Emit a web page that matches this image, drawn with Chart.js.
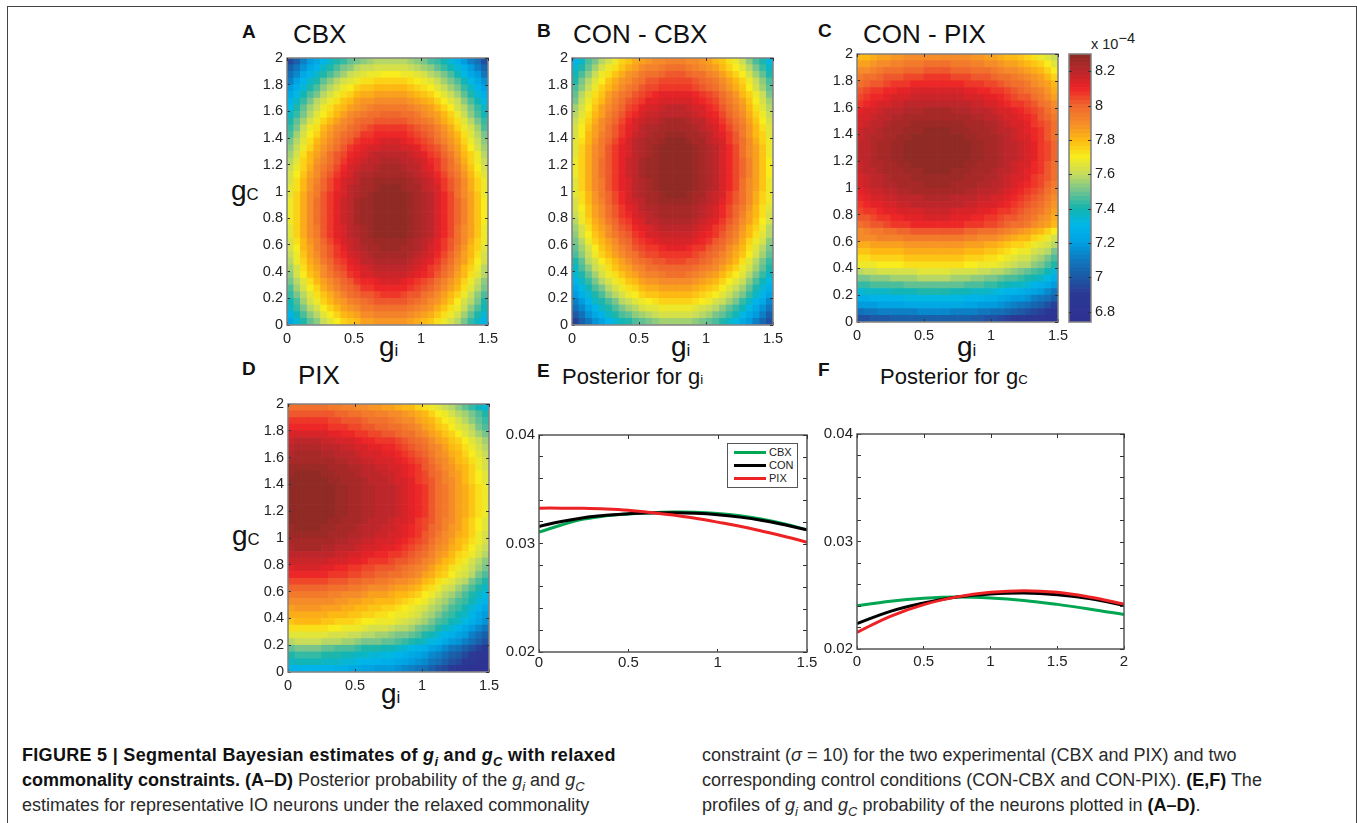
<!DOCTYPE html>
<html>
<head>
<meta charset="utf-8">
<title>Figure 5</title>
<script src="https://cdn.jsdelivr.net/npm/chart.js@4"></script>
<style>
html,body{margin:0;padding:0;background:#fff;width:1357px;height:823px;overflow:hidden;font-family:"Liberation Sans",Arial,sans-serif;color:#1a1a1a}
canvas{position:absolute}
.t{position:absolute;white-space:nowrap;line-height:1}
.letter{font-weight:bold;font-size:19px;color:#111}
.title{font-size:26px;color:#111}
.title2{font-size:22px;color:#111}
.title2 small,.gl small{font-size:.6em}
.gl{font-size:28px;color:#111}
.frame{position:absolute;left:7px;top:6px;width:1348px;height:830px;border:1.5px solid #444}
.cap{position:absolute;white-space:nowrap;font-size:18px;line-height:25px;color:#2a2a2a}
.cap b{color:#111}
.cap sub{font-size:.72em;line-height:0}
.lgd{position:absolute;left:727px;top:443px;width:69px;height:43px;border:1px solid #555;background:#fff;z-index:5}
.lgd i{position:absolute;left:6px;width:32px;height:3px}
.lgd span{position:absolute;left:41px;font-size:11px;line-height:12px;color:#222}
</style>
</head>
<body>
<div class="frame"></div>

<div class="t letter" style="left:242px;top:22px">A</div>
<div class="t letter" style="left:537px;top:21px">B</div>
<div class="t letter" style="left:818px;top:21px">C</div>
<div class="t letter" style="left:242px;top:359px">D</div>
<div class="t letter" style="left:537px;top:361px">E</div>
<div class="t letter" style="left:818px;top:360px">F</div>

<div class="t title" style="left:293px;top:21px">CBX</div>
<div class="t title" style="left:573px;top:21px">CON - CBX</div>
<div class="t title" style="left:863px;top:21px">CON - PIX</div>
<div class="t title" style="left:298px;top:362px">PIX</div>
<div class="t title2" style="left:562px;top:366px">Posterior for g<small>i</small></div>
<div class="t title2" style="left:880px;top:366px">Posterior for g<small>C</small></div>

<div class="t gl" style="left:231px;top:177px">g<small>C</small></div>
<div class="t gl" style="left:232px;top:522px">g<small>C</small></div>
<div class="t gl" style="left:379px;top:333px">g<small>i</small></div>
<div class="t gl" style="left:671px;top:333px">g<small>i</small></div>
<div class="t gl" style="left:957px;top:333px">g<small>i</small></div>
<div class="t gl" style="left:381px;top:680px">g<small>i</small></div>

<div class="t" style="left:1091px;top:37px;font-size:14.5px;color:#222">x 10<sup style="font-size:14.5px;line-height:0">&minus;4</sup></div>

<div class="lgd">
  <i style="top:7px;background:#00a651"></i><span style="top:2px">CBX</span>
  <i style="top:20px;background:#000"></i><span style="top:15px">CON</span>
  <i style="top:33px;background:#ed2224"></i><span style="top:28px">PIX</span>
</div>

<div class="cap" style="left:22px;top:743px">
<b style="letter-spacing:.3px">FIGURE 5 | Segmental Bayesian estimates of <i>g<sub>i</sub></i> and <i>g<sub>C</sub></i> with relaxed</b><br>
<b>commonality constraints. (A&ndash;D)</b> Posterior probability of the <i>g<sub>i</sub></i> and <i>g<sub>C</sub></i><br>
estimates for representative IO neurons under the relaxed commonality
</div>
<div class="cap" style="left:702px;top:743px">
constraint (<i>&sigma;</i> = 10) for the two experimental (CBX and PIX) and two<br>
corresponding control conditions (CON-CBX and CON-PIX). <b>(E,F)</b> The<br>
profiles of <i>g<sub>i</sub></i> and <i>g<sub>C</sub></i> probability of the neurons plotted in <b>(A&ndash;D)</b>.
</div>

<script>
// posterior grids, x 10^-6, rows run top (gc = 2) to bottom (gc = 0), 30 columns gi 0..1.5
const cbxGrid = [
[695,703,711,718,724,730,735,740,744,748,751,754,755,757,758,758,758,757,755,753,750,747,743,738,733,727,720,713,706,698],
[701,709,717,724,730,736,741,746,750,754,757,760,761,763,764,764,764,763,761,759,756,753,749,744,739,733,726,719,712,704],
[707,715,723,730,736,742,747,752,756,760,763,766,767,769,770,770,770,769,767,765,762,759,755,750,745,739,732,725,718,710],
[713,721,729,736,742,748,753,758,762,766,769,772,773,775,776,776,776,775,773,771,768,765,761,756,751,745,738,731,724,716],
[718,726,734,741,747,753,758,763,767,771,774,777,778,780,781,781,781,780,778,776,773,770,766,761,756,750,743,736,729,721],
[723,731,739,746,752,758,763,768,772,776,779,782,783,785,786,786,786,785,783,781,778,775,771,766,761,755,748,741,734,726],
[728,736,744,751,757,763,768,773,777,781,784,787,788,790,791,791,791,790,788,786,783,780,776,771,766,760,753,746,739,731],
[732,740,748,755,761,767,772,777,781,785,788,791,792,794,795,795,795,794,792,790,787,784,780,775,770,764,757,750,743,735],
[736,744,752,759,765,771,776,781,785,789,792,795,796,798,799,799,799,798,796,794,791,788,784,779,774,768,761,754,747,739],
[740,748,756,763,769,775,780,785,789,793,796,799,800,802,803,803,803,802,800,798,795,792,788,783,778,772,765,758,751,743],
[744,752,760,767,773,779,784,789,793,797,800,803,804,806,807,807,807,806,804,802,799,796,792,787,782,776,769,762,755,747],
[747,755,763,770,776,782,787,792,796,800,803,806,807,809,810,810,810,809,807,805,802,799,795,790,785,779,772,765,758,750],
[750,758,766,773,779,785,790,795,799,803,806,809,810,812,813,813,813,812,810,808,805,802,798,793,788,782,775,768,761,753],
[753,761,769,776,782,788,793,798,802,806,809,812,813,815,816,816,816,815,813,811,808,805,801,796,791,785,778,771,764,756],
[756,764,772,779,785,791,796,801,805,809,812,815,816,818,819,819,819,818,816,814,811,808,804,799,794,788,781,774,767,759],
[758,766,774,781,787,793,798,803,807,811,814,817,818,820,821,821,821,820,818,816,813,810,806,801,796,790,783,776,769,761],
[760,768,776,783,789,795,800,805,809,813,816,819,820,822,823,823,823,822,820,818,815,812,808,803,798,792,785,778,771,763],
[762,770,778,785,791,797,802,807,811,815,818,821,822,824,825,825,825,824,822,820,817,814,810,805,800,794,787,780,773,765],
[764,772,780,787,793,799,804,809,813,817,820,823,824,826,827,827,827,826,824,822,819,816,812,807,802,796,789,782,775,767],
[765,773,781,788,794,800,805,810,814,818,821,824,825,827,828,828,828,827,825,823,820,817,813,808,803,797,790,783,776,768],
[766,774,782,789,795,801,806,811,815,819,822,825,826,828,829,829,829,828,826,824,821,818,814,809,804,798,791,784,777,769],
[767,775,783,790,796,802,807,812,816,820,823,826,827,829,830,830,830,829,827,825,822,819,815,810,805,799,792,785,778,770],
[767,775,783,790,796,802,807,812,816,820,823,826,827,829,830,830,830,829,827,825,822,819,815,810,805,799,792,785,778,770],
[767,775,783,790,796,802,807,812,816,820,823,826,827,829,830,830,830,829,827,825,822,819,815,810,805,799,792,785,778,770],
[767,775,783,790,796,802,807,812,816,820,823,826,827,829,830,830,830,829,827,825,822,819,815,810,805,799,792,785,778,770],
[766,774,782,789,795,801,806,811,815,819,822,825,826,828,829,829,829,828,826,824,821,818,814,809,804,798,791,784,777,769],
[766,774,782,789,795,801,806,811,815,819,822,825,826,828,829,829,829,828,826,824,821,818,814,809,804,798,791,784,777,769],
[764,772,780,787,793,799,804,809,813,817,820,823,824,826,827,827,827,826,824,822,819,816,812,807,802,796,789,782,775,767],
[763,771,779,786,792,798,803,808,812,816,819,822,823,825,826,826,826,825,823,821,818,815,811,806,801,795,788,781,774,766],
[761,769,777,784,790,796,801,806,810,814,817,820,821,823,824,824,824,823,821,819,816,813,809,804,799,793,786,779,772,764],
[759,767,775,782,788,794,799,804,808,812,815,818,819,821,822,822,822,821,819,817,814,811,807,802,797,791,784,777,770,762],
[756,764,772,779,785,791,796,801,805,809,812,815,816,818,819,819,819,818,816,814,811,808,804,799,794,788,781,774,767,759],
[754,762,770,777,783,789,794,799,803,807,810,813,814,816,817,817,817,816,814,812,809,806,802,797,792,786,779,772,765,757],
[750,758,766,773,779,785,790,795,799,803,806,809,810,812,813,813,813,812,810,808,805,802,798,793,788,782,775,768,761,753],
[747,755,763,770,776,782,787,792,796,800,803,806,807,809,810,810,810,809,807,805,802,799,795,790,785,779,772,765,758,750],
[743,751,759,766,772,778,783,788,792,796,799,802,803,805,806,806,806,805,803,801,798,795,791,786,781,775,768,761,754,746],
[739,747,755,762,768,774,779,784,788,792,795,798,799,801,802,802,802,801,799,797,794,791,787,782,777,771,764,757,750,742],
[735,743,751,758,764,770,775,780,784,788,791,794,795,797,798,798,798,797,795,793,790,787,783,778,773,767,760,753,746,738],
[730,738,746,753,759,765,770,775,779,783,786,789,790,792,793,793,793,792,790,788,785,782,778,773,768,762,755,748,741,733],
[725,733,741,748,754,760,765,770,774,778,781,784,785,787,788,788,788,787,785,783,780,777,773,768,763,757,750,743,736,728]
];
const conCbxGrid = [
[729,737,745,752,758,764,769,774,778,782,785,788,789,791,792,792,792,791,789,787,784,781,777,772,767,761,754,747,740,732],
[733,741,749,756,762,768,773,778,782,786,789,792,793,795,796,796,796,795,793,791,788,785,781,776,771,765,758,751,744,736],
[738,746,754,761,767,773,778,783,787,791,794,797,798,800,801,801,801,800,798,796,793,790,786,781,776,770,763,756,749,741],
[742,750,758,765,771,777,782,787,791,795,798,801,802,804,805,805,805,804,802,800,797,794,790,785,780,774,767,760,753,745],
[745,753,761,768,774,780,785,790,794,798,801,804,805,807,808,808,808,807,805,803,800,797,793,788,783,777,770,763,756,748],
[749,757,765,772,778,784,789,794,798,802,805,808,809,811,812,812,812,811,809,807,804,801,797,792,787,781,774,767,760,752],
[752,760,768,775,781,787,792,797,801,805,808,811,812,814,815,815,815,814,812,810,807,804,800,795,790,784,777,770,763,755],
[755,763,771,778,784,790,795,800,804,808,811,814,815,817,818,818,818,817,815,813,810,807,803,798,793,787,780,773,766,758],
[757,765,773,780,786,792,797,802,806,810,813,816,817,819,820,820,820,819,817,815,812,809,805,800,795,789,782,775,768,760],
[760,768,776,783,789,795,800,805,809,813,816,819,820,822,823,823,823,822,820,818,815,812,808,803,798,792,785,778,771,763],
[762,770,778,785,791,797,802,807,811,815,818,821,822,824,825,825,825,824,822,820,817,814,810,805,800,794,787,780,773,765],
[763,771,779,786,792,798,803,808,812,816,819,822,823,825,826,826,826,825,823,821,818,815,811,806,801,795,788,781,774,766],
[765,773,781,788,794,800,805,810,814,818,821,824,825,827,828,828,828,827,825,823,820,817,813,808,803,797,790,783,776,768],
[766,774,782,789,795,801,806,811,815,819,822,825,826,828,829,829,829,828,826,824,821,818,814,809,804,798,791,784,777,769],
[766,774,782,789,795,801,806,811,815,819,822,825,826,828,829,829,829,828,826,824,821,818,814,809,804,798,791,784,777,769],
[767,775,783,790,796,802,807,812,816,820,823,826,827,829,830,830,830,829,827,825,822,819,815,810,805,799,792,785,778,770],
[767,775,783,790,796,802,807,812,816,820,823,826,827,829,830,830,830,829,827,825,822,819,815,810,805,799,792,785,778,770],
[767,775,783,790,796,802,807,812,816,820,823,826,827,829,830,830,830,829,827,825,822,819,815,810,805,799,792,785,778,770],
[766,774,782,789,795,801,806,811,815,819,822,825,826,828,829,829,829,828,826,824,821,818,814,809,804,798,791,784,777,769],
[766,774,782,789,795,801,806,811,815,819,822,825,826,828,829,829,829,828,826,824,821,818,814,809,804,798,791,784,777,769],
[765,773,781,788,794,800,805,810,814,818,821,824,825,827,828,828,828,827,825,823,820,817,813,808,803,797,790,783,776,768],
[764,772,780,787,793,799,804,809,813,817,820,823,824,826,827,827,827,826,824,822,819,816,812,807,802,796,789,782,775,767],
[762,770,778,785,791,797,802,807,811,815,818,821,822,824,825,825,825,824,822,820,817,814,810,805,800,794,787,780,773,765],
[761,769,777,784,790,796,801,806,810,814,817,820,821,823,824,824,824,823,821,819,816,813,809,804,799,793,786,779,772,764],
[759,767,775,782,788,794,799,804,808,812,815,818,819,821,822,822,822,821,819,817,814,811,807,802,797,791,784,777,770,762],
[756,764,772,779,785,791,796,801,805,809,812,815,816,818,819,819,819,818,816,814,811,808,804,799,794,788,781,774,767,759],
[754,762,770,777,783,789,794,799,803,807,810,813,814,816,817,817,817,816,814,812,809,806,802,797,792,786,779,772,765,757],
[751,759,767,774,780,786,791,796,800,804,807,810,811,813,814,814,814,813,811,809,806,803,799,794,789,783,776,769,762,754],
[748,756,764,771,777,783,788,793,797,801,804,807,808,810,811,811,811,810,808,806,803,800,796,791,786,780,773,766,759,751],
[745,753,761,768,774,780,785,790,794,798,801,804,805,807,808,808,808,807,805,803,800,797,793,788,783,777,770,763,756,748],
[741,749,757,764,770,776,781,786,790,794,797,800,801,803,804,804,804,803,801,799,796,793,789,784,779,773,766,759,752,744],
[737,745,753,760,766,772,777,782,786,790,793,796,797,799,800,800,800,799,797,795,792,789,785,780,775,769,762,755,748,740],
[733,741,749,756,762,768,773,778,782,786,789,792,793,795,796,796,796,795,793,791,788,785,781,776,771,765,758,751,744,736],
[728,736,744,751,757,763,768,773,777,781,784,787,788,790,791,791,791,790,788,786,783,780,776,771,766,760,753,746,739,731],
[723,731,739,746,752,758,763,768,772,776,779,782,783,785,786,786,786,785,783,781,778,775,771,766,761,755,748,741,734,726],
[718,726,734,741,747,753,758,763,767,771,774,777,778,780,781,781,781,780,778,776,773,770,766,761,756,750,743,736,729,721],
[712,720,728,735,741,747,752,757,761,765,768,771,772,774,775,775,775,774,772,770,767,764,760,755,750,744,737,730,723,715],
[706,714,722,729,735,741,746,751,755,759,762,765,766,768,769,769,769,768,766,764,761,758,754,749,744,738,731,724,717,709],
[700,708,716,723,729,735,740,745,749,753,756,759,760,762,763,763,763,762,760,758,755,752,748,743,738,732,725,718,711,703],
[693,701,709,716,722,728,733,738,742,746,749,752,753,755,756,756,756,755,753,751,748,745,741,736,731,725,718,711,704,696]
];
const conPixGrid = [
[779,781,783,784,786,787,788,789,790,790,791,791,791,791,790,790,789,788,787,786,785,783,781,779,777,775,772,769,765,760],
[784,786,788,789,791,792,793,794,795,795,796,796,796,796,795,795,794,793,792,791,790,788,786,784,782,780,777,774,770,765],
[789,791,793,794,796,797,798,799,800,800,801,801,801,801,800,800,799,798,797,796,795,793,791,789,787,785,782,779,775,770],
[794,796,798,799,801,802,803,804,805,805,806,806,806,806,805,805,804,803,802,801,800,798,796,794,792,790,787,784,780,775],
[798,800,802,803,805,806,807,808,809,809,810,810,810,810,809,809,808,807,806,805,804,802,800,798,796,794,791,788,784,779],
[802,804,806,807,809,810,811,812,813,813,814,814,814,814,813,813,812,811,810,809,808,806,804,802,800,798,795,792,788,783],
[805,807,809,810,812,813,814,815,816,816,817,817,817,817,816,816,815,814,813,812,811,809,807,805,803,801,798,795,791,786],
[808,810,812,813,815,816,817,818,819,819,820,820,820,820,819,819,818,817,816,815,814,812,810,808,806,804,801,798,794,789],
[811,813,815,816,818,819,820,821,822,822,823,823,823,823,822,822,821,820,819,818,817,815,813,811,809,807,804,801,797,792],
[813,815,817,818,820,821,822,823,824,824,825,825,825,825,824,824,823,822,821,820,819,817,815,813,811,809,806,803,799,794],
[815,817,819,820,822,823,824,825,826,826,827,827,827,827,826,826,825,824,823,822,821,819,817,815,813,811,808,805,801,796],
[816,818,820,821,823,824,825,826,827,827,828,828,828,828,827,827,826,825,824,823,822,820,818,816,814,812,809,806,802,797],
[817,819,821,822,824,825,826,827,828,828,829,829,829,829,828,828,827,826,825,824,823,821,819,817,815,813,810,807,803,798],
[818,820,822,823,825,826,827,828,829,829,830,830,830,830,829,829,828,827,826,825,824,822,820,818,816,814,811,808,804,799],
[818,820,822,823,825,826,827,828,829,829,830,830,830,830,829,829,828,827,826,825,824,822,820,818,816,814,811,808,804,799],
[818,820,822,823,825,826,827,828,829,829,830,830,830,830,829,829,828,827,826,825,824,822,820,818,816,814,811,808,804,799],
[817,819,821,822,824,825,826,827,828,828,829,829,829,829,828,828,827,826,825,824,823,821,819,817,815,813,810,807,803,798],
[816,818,820,821,823,824,825,826,827,827,828,828,828,828,827,827,826,825,824,823,822,820,818,816,814,812,809,806,802,797],
[815,817,819,820,822,823,824,825,826,826,827,827,827,827,826,826,825,824,823,822,821,819,817,815,813,811,808,805,801,796],
[814,816,818,819,821,822,823,824,825,825,826,826,826,826,825,825,824,823,822,821,820,818,816,814,812,810,807,804,800,795],
[812,814,816,817,819,820,821,822,823,823,824,824,824,824,823,823,822,821,820,819,818,816,814,812,810,808,805,802,798,793],
[809,811,813,814,816,817,818,819,820,820,821,821,821,821,820,820,819,818,817,816,815,813,811,809,807,805,802,799,795,790],
[807,809,811,812,814,815,816,817,818,818,819,819,819,819,818,818,817,816,815,814,813,811,809,807,805,803,800,797,793,788],
[804,806,808,809,811,812,813,814,815,815,816,816,816,816,815,815,814,813,812,811,810,808,806,804,802,800,797,794,790,785],
[801,803,805,806,808,809,810,811,812,812,813,813,813,813,812,812,811,810,809,808,807,805,803,801,799,797,794,791,787,782],
[798,800,802,803,805,806,807,808,809,809,810,810,810,810,809,809,808,807,806,805,804,802,800,798,796,794,791,788,784,779],
[790,792,794,795,797,798,799,800,801,801,802,802,802,802,801,801,800,799,798,797,796,794,792,790,788,786,783,780,776,771],
[789,790,791,792,792,793,793,794,794,795,795,795,795,795,794,794,793,792,791,790,789,787,785,783,781,779,776,773,769,764],
[782,783,784,785,785,786,786,787,787,788,788,788,788,788,787,787,786,785,784,783,782,780,778,776,774,772,769,766,762,757],
[777,778,779,780,780,781,781,782,782,783,783,783,783,783,782,782,781,780,779,778,777,775,773,771,769,767,764,761,757,752],
[772,773,774,775,775,776,776,777,777,778,778,778,778,778,777,777,776,775,774,773,772,770,768,766,764,762,759,756,752,747],
[767,768,769,770,770,771,771,772,772,773,773,773,773,773,772,772,771,770,769,768,767,765,763,761,759,757,754,751,747,742],
[759,760,761,762,762,763,763,764,764,765,765,765,765,765,764,764,763,762,761,760,759,757,755,753,751,749,746,743,739,734],
[751,752,753,754,754,755,755,756,756,757,757,757,757,757,756,756,755,754,753,752,751,749,747,745,743,741,738,735,731,726],
[743,744,745,746,746,747,747,748,748,749,749,749,749,749,748,748,747,746,745,744,743,741,739,737,735,733,730,727,723,718],
[734,735,736,737,737,738,738,739,739,740,740,740,740,740,739,739,738,737,736,735,734,732,730,728,726,724,721,718,714,709],
[726,727,728,729,729,730,730,731,731,732,732,732,732,732,731,731,730,729,728,727,726,724,722,720,718,716,713,710,706,701],
[718,719,720,721,721,722,722,723,723,724,724,724,724,724,723,723,722,721,720,719,718,716,714,712,710,708,705,702,698,693],
[708,709,710,711,711,712,712,713,713,714,714,714,714,714,713,713,712,711,710,709,708,706,704,702,700,698,695,692,688,683],
[697,698,699,700,700,701,701,702,702,703,703,703,703,703,702,702,701,700,699,698,697,695,693,691,689,687,684,681,677,675]
];
const pixGrid = [
[796,797,797,797,797,796,795,794,793,792,791,789,788,787,786,785,783,781,779,776,773,769,765,761,757,753,749,744,739,734],
[802,803,803,803,803,802,801,800,799,798,797,795,794,793,792,791,789,787,785,782,779,775,771,767,763,759,755,750,745,740],
[806,807,807,807,807,806,805,804,803,802,801,799,798,797,796,795,793,791,789,786,783,779,775,771,767,763,759,754,749,744],
[809,810,810,810,810,809,808,807,806,805,804,802,801,800,799,798,796,794,792,789,786,782,778,774,770,766,762,757,752,747],
[813,814,814,814,814,813,812,811,810,809,808,806,805,804,803,802,800,798,796,793,790,786,782,778,774,770,766,761,756,751],
[817,818,818,818,818,817,816,815,814,813,812,810,809,808,807,806,804,802,800,797,794,790,786,782,778,774,770,765,760,755],
[820,821,821,821,821,820,819,818,817,816,815,813,812,811,810,809,807,805,803,800,797,793,789,785,781,777,773,768,763,758],
[822,823,823,823,823,822,821,820,819,818,817,815,814,813,812,811,809,807,805,802,799,795,791,787,783,779,775,770,765,760],
[824,825,825,825,825,824,823,822,821,820,819,817,816,815,814,813,811,809,807,804,801,797,793,789,785,781,777,772,767,762],
[826,827,827,827,827,826,825,824,823,822,821,819,818,817,816,815,813,811,809,806,803,799,795,791,787,783,779,774,769,764],
[827,828,828,828,828,827,826,825,824,823,822,820,819,818,817,816,814,812,810,807,804,800,796,792,788,784,780,775,770,765],
[828,829,829,829,829,828,827,826,825,824,823,821,820,819,818,817,815,813,811,808,805,801,797,793,789,785,781,776,771,766],
[829,830,830,830,830,829,828,827,826,825,824,822,821,820,819,818,816,814,812,809,806,802,798,794,790,786,782,777,772,767],
[829,830,830,830,830,829,828,827,826,825,824,822,821,820,819,818,816,814,812,809,806,802,798,794,790,786,782,777,772,767],
[829,830,830,830,830,829,828,827,826,825,824,822,821,820,819,818,816,814,812,809,806,802,798,794,790,786,782,777,772,767],
[829,830,830,830,830,829,828,827,826,825,824,822,821,820,819,818,816,814,812,809,806,802,798,794,790,786,782,777,772,767],
[829,830,830,830,830,829,828,827,826,825,824,822,821,820,819,818,816,814,812,809,806,802,798,794,790,786,782,777,772,767],
[828,829,829,829,829,828,827,826,825,824,823,821,820,819,818,817,815,813,811,808,805,801,797,793,789,785,781,776,771,766],
[827,828,828,828,828,827,826,825,824,823,822,820,819,818,817,816,814,812,810,807,804,800,796,792,788,784,780,775,770,765],
[826,827,827,827,827,826,825,824,823,822,821,819,818,817,816,815,813,811,809,806,803,799,795,791,787,783,779,774,769,764],
[824,825,825,825,825,824,823,822,821,820,819,817,816,815,814,813,811,809,807,804,801,797,793,789,785,781,777,772,767,762],
[822,823,823,823,823,822,821,820,819,818,817,815,814,813,812,811,809,807,805,802,799,795,791,787,783,779,775,770,765,760],
[819,820,820,820,820,819,818,817,816,815,814,812,811,810,809,808,806,804,802,799,796,792,788,784,780,776,772,767,762,757],
[816,817,817,817,817,816,815,814,813,812,811,809,808,807,806,805,803,801,799,796,793,789,785,781,777,773,769,764,759,754],
[812,813,813,813,813,812,811,810,809,808,807,805,804,803,802,801,799,797,795,792,789,785,781,777,773,769,765,760,755,750],
[809,810,810,810,810,809,808,807,806,805,804,802,801,800,799,798,796,794,792,789,786,782,778,774,770,766,762,757,752,747],
[804,805,805,805,805,804,803,802,801,800,799,797,796,795,794,793,791,789,787,784,781,777,773,769,765,761,757,752,747,742],
[799,800,800,800,800,799,798,797,796,795,794,792,791,790,789,788,786,784,782,779,776,772,768,764,760,756,752,747,742,737],
[794,795,795,795,795,794,793,792,791,790,789,787,786,785,784,783,781,779,777,774,771,767,763,759,755,751,747,742,737,732],
[790,791,791,791,791,790,789,788,787,786,785,783,782,781,780,779,777,775,773,770,767,763,759,755,751,747,743,738,733,728],
[786,787,787,787,787,786,785,784,783,782,781,779,778,777,776,775,773,771,769,766,763,759,755,751,747,743,739,734,729,724],
[782,783,783,783,783,782,781,780,779,778,777,775,774,773,772,771,769,767,765,762,759,755,751,747,743,739,735,730,725,720],
[778,779,779,779,779,778,777,776,775,774,773,771,770,769,768,767,765,763,761,758,755,751,747,743,739,735,731,726,721,716],
[772,773,773,773,773,772,771,770,769,768,767,765,764,763,762,761,759,757,755,752,749,745,741,737,733,729,725,720,715,710],
[765,766,766,766,766,765,764,763,762,761,760,758,757,756,755,754,752,750,748,745,742,738,734,730,726,722,718,713,708,703],
[759,760,760,760,760,759,758,757,756,755,754,752,751,750,749,748,746,744,742,739,736,732,728,724,720,716,712,707,702,697],
[749,750,750,750,750,749,748,747,746,745,744,742,741,740,739,738,736,734,732,729,726,722,718,714,710,706,702,697,692,687],
[742,743,743,743,743,742,741,740,739,738,737,735,734,733,732,731,729,727,725,722,719,715,711,707,703,699,695,690,685,680],
[737,738,738,738,738,737,736,735,734,733,732,730,729,728,727,726,724,722,720,717,714,710,706,702,698,694,690,685,680,675],
[729,730,730,730,730,729,728,727,726,725,724,722,721,720,719,718,716,714,712,709,706,702,698,694,690,686,682,677,675,675]
];

// posterior curves
const giValues = [0,0.125,0.25,0.375,0.5,0.625,0.75,0.875,1,1.125,1.25,1.375,1.5];
const giCbx = [0.03105,0.03170,0.03225,0.03255,0.03272,0.03284,0.03290,0.03288,0.03276,0.03255,0.03224,0.03180,0.03126];
const giCon = [0.03157,0.03203,0.03238,0.03260,0.03275,0.03281,0.03283,0.03279,0.03266,0.03243,0.03212,0.03172,0.03126];
const giPix = [0.03326,0.03326,0.03324,0.03318,0.03306,0.03285,0.03262,0.03232,0.03197,0.03159,0.03113,0.03065,0.03012];
const gcValues = [0,0.25,0.5,0.75,1,1.25,1.5,1.75,2];
const gcCbx = [0.02403,0.02445,0.02472,0.02484,0.02475,0.02452,0.02415,0.02370,0.02320];
const gcCon = [0.02236,0.02350,0.02428,0.02484,0.02512,0.02521,0.02505,0.02468,0.02406];
const gcPix = [0.02155,0.02304,0.02413,0.02485,0.02527,0.02543,0.02527,0.02481,0.02419];

// colour scale
const colorbarTicks = [6.8,7,7.2,7.4,7.6,7.8,8,8.2];
const colorMin = 6.74, colorMax = 8.3, colorLevels = 64;
const stopValues = [6.74,6.9,7.0,7.1,7.2,7.3,7.4,7.5,7.6,7.7,7.8,7.9,8.0,8.1,8.2,8.3];
const stopColors = [[46,49,146],[43,56,148],[28,90,166],[15,120,191],[0,160,224],[0,183,235],[20,181,173],[114,195,143],[199,220,92],[248,237,28],[253,184,19],[245,138,42],[240,101,45],[237,34,39],[184,40,44],[139,42,35]];

function colorAt(v){
  const level = Math.min(colorLevels-1, Math.max(0, Math.floor((v-colorMin)/(colorMax-colorMin)*colorLevels)));
  const mid = colorMin+(level+0.5)*(colorMax-colorMin)/colorLevels;
  let i = 0;
  while(i<stopValues.length-2 && mid>stopValues[i+1]) i++;
  const f = (mid-stopValues[i])/(stopValues[i+1]-stopValues[i]);
  const c = stopColors[i].map((s,k)=>Math.round(s+(stopColors[i+1][k]-s)*f));
  return `rgb(${c[0]},${c[1]},${c[2]})`;
}

Chart.defaults.font.family = '"Liberation Sans", Arial, sans-serif';
Chart.defaults.font.size = 14.5;
Chart.defaults.color = '#222';
Chart.defaults.animation = false;

// matlab style box: outline plus the ticks mirrored on top and right
const boxFrame = {
  id:'boxFrame',
  afterDraw(chart,args,opts){
    const a = chart.chartArea, ctx = chart.ctx, x = chart.scales.x, y = chart.scales.y;
    ctx.save();
    ctx.strokeStyle = opts.color;
    ctx.lineWidth = opts.width;
    ctx.strokeRect(a.left,a.top,a.right-a.left,a.bottom-a.top);
    ctx.lineWidth = 1;
    ctx.strokeStyle = '#333';
    ctx.beginPath();
    if(x.options.display){
      x.ticks.forEach(t=>{
        const p = Math.round(x.getPixelForValue(t.value))+0.5;
        ctx.moveTo(p,a.top); ctx.lineTo(p,a.top+opts.tick);
      });
    }
    y.ticks.forEach(t=>{
      const p = Math.round(y.getPixelForValue(t.value))+0.5;
      ctx.moveTo(a.right,p); ctx.lineTo(a.right-opts.tick,p);
      if(y.options.position==='right'){ ctx.moveTo(a.left,p); ctx.lineTo(a.left+opts.tick,p); }
    });
    ctx.stroke();
    ctx.restore();
  }
};

const padL = 50, padT = 12, padR = 16, padB = 28;

function addCanvas(box){
  const c = document.createElement('canvas');
  c.width = box.w+padL+(box.r||padR);
  c.height = box.h+padT+padB;
  c.style.left = (box.x-padL)+'px';
  c.style.top = (box.y-padT)+'px';
  document.body.appendChild(c);
  return c;
}

function fitY(s){ s.width = padL; s.paddingTop = s.paddingBottom = 0; }
function fitX(s){ s.height = padB; s.paddingLeft = s.paddingRight = 0; }

function xAxis(max,gap,size){
  return {
    type:'linear', min:0, max:max, offset:false, stacked:true, afterFit:fitX,
    border:{display:false},
    grid:{offset:false, drawOnChartArea:false, tickLength:-3, tickColor:'#333', z:1},
    ticks:{stepSize:0.5, padding:gap, maxRotation:0, autoSkip:false, font:{size}, callback:v=>String(+v.toFixed(2))}
  };
}

function heatmap(box,grid){
  const cols = grid[0].length, rows = grid.length;
  const giStep = 1.5/cols, gcStep = 2/rows;
  const datasets = [];
  for(let r=rows-1;r>=0;r--){
    datasets.push({
      data:grid[r].map((v,c)=>({x:(c+0.5)*giStep,y:gcStep})),
      backgroundColor:grid[r].map(v=>colorAt(v/100)),
      borderWidth:0, barPercentage:1, categoryPercentage:1
    });
  }
  new Chart(addCanvas(box),{
    type:'bar',
    data:{datasets},
    options:{
      responsive:false,
      layout:{padding:{top:padT,right:padR}},
      plugins:{legend:{display:false},tooltip:{enabled:false},boxFrame:{color:'#808080',width:1.5,tick:3}},
      scales:{
        x:xAxis(1.5,8,14.5),
        y:{
          min:0,max:2,stacked:true,afterFit:fitY,border:{display:false},
          grid:{drawOnChartArea:false,tickLength:-3,tickColor:'#333',z:1},
          ticks:{stepSize:0.2,padding:7,autoSkip:false,callback:v=>String(+v.toFixed(2))}
        }
      }
    },
    plugins:[boxFrame]
  });
}

function curves(box,xs,xMax,cbx,con,pix,gap){
  const pts = ys=>ys.map((y,i)=>({x:xs[i],y}));
  const line = (label,ys,color,order)=>({label,data:pts(ys),borderColor:color,borderWidth:3,pointRadius:0,tension:0.4,order});
  new Chart(addCanvas(box),{
    type:'line',
    data:{datasets:[line('CBX',cbx,'#00a651',2),line('CON',con,'#000000',1),line('PIX',pix,'#ed2224',0)]},
    options:{
      responsive:false,
      layout:{padding:{top:padT,right:padR}},
      plugins:{legend:{display:false},tooltip:{enabled:false},boxFrame:{color:'#555',width:1.5,tick:4}},
      scales:{
        x:Object.assign(xAxis(xMax,gap,15),{stacked:false}),
        y:{
          min:0.02,max:0.04,afterFit:fitY,border:{display:false},
          grid:{drawOnChartArea:false,tickLength:-4,tickColor:'#333',z:1},
          ticks:{stepSize:0.002,padding:8,autoSkip:false,font:{size:15},callback:v=>{
            const n = Math.round(v*1000);
            return n%10===0 ? (n/1000).toFixed(2) : '';
          }}
        }
      }
    },
    plugins:[boxFrame]
  });
}

function colorbar(box){
  const datasets = [];
  const step = (colorMax-colorMin)/colorLevels;
  for(let i=0;i<colorLevels;i++){
    const lo = colorMin+i*step;
    datasets.push({data:[[lo,lo+step]],backgroundColor:colorAt(lo+step/2),borderWidth:0,barPercentage:1,categoryPercentage:1});
  }
  new Chart(addCanvas(box),{
    type:'bar',
    data:{labels:[''],datasets},
    options:{
      responsive:false,
      layout:{padding:{top:padT,left:padL,bottom:padB}},
      plugins:{legend:{display:false},tooltip:{enabled:false},boxFrame:{color:'#808080',width:1.5,tick:3}},
      scales:{
        x:{stacked:true,display:false},
        y:{
          position:'right',min:colorMin,max:colorMax,
          afterFit:s=>{s.width=box.r;s.paddingTop=s.paddingBottom=0;},
          afterBuildTicks:s=>{s.ticks=colorbarTicks.map(value=>({value}));},
          border:{display:false},
          grid:{drawOnChartArea:false,drawTicks:false},
          ticks:{padding:4,autoSkip:false,callback:v=>String(+v.toFixed(1))}
        }
      }
    },
    plugins:[boxFrame]
  });
}

heatmap({x:287,y:58,w:201,h:267},cbxGrid);
heatmap({x:572,y:58,w:201,h:267},conCbxGrid);
heatmap({x:857,y:54,w:201,h:268},conPixGrid);
heatmap({x:288,y:404,w:201,h:268},pixGrid);
curves({x:539,y:435,w:268,h:217},giValues,1.5,giCbx,giCon,giPix,5);
curves({x:857,y:434,w:267,h:215},gcValues,2,gcCbx,gcCon,gcPix,7);
colorbar({x:1069,y:54,w:22,h:268,r:45});
</script>
</body>
</html>
